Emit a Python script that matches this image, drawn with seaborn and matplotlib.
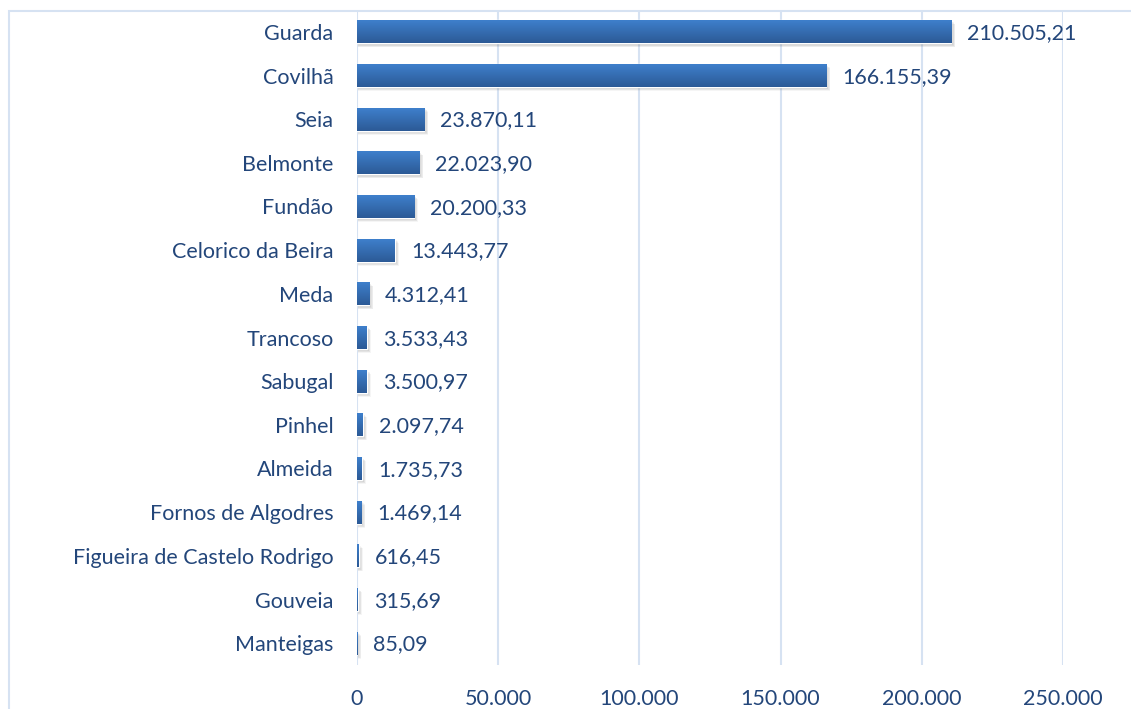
import numpy as np
import pandas as pd
import matplotlib
matplotlib.use('Agg')
import matplotlib.pyplot as plt
import seaborn as sns
from matplotlib.patches import Rectangle
from matplotlib.colors import LinearSegmentedColormap

# Data
concelhos = ['Guarda', 'Covilhã', 'Seia', 'Belmonte', 'Fundão', 'Celorico da Beira',
             'Meda', 'Trancoso', 'Sabugal', 'Pinhel', 'Almeida', 'Fornos de Algodres',
             'Figueira de Castelo Rodrigo', 'Gouveia', 'Manteigas']
valores = [210505.21, 166155.39, 23870.11, 22023.90, 20200.33, 13443.77,
           4312.41, 3533.43, 3500.97, 2097.74, 1735.73, 1469.14,
           616.45, 315.69, 85.09]
x_ticks = [0, 50000, 100000, 150000, 200000, 250000]

df = pd.DataFrame({'Concelho': concelhos, 'Valor': valores})

TXT = '#23467A'
GRID = '#D6E2F2'
FS = 15.5

def pt(v):
    # Portuguese number format: 1.234,56
    s = f"{v:,.2f}"
    return s.replace(',', 'X').replace('.', ',').replace('X', '.')

sns.set_style('white')
plt.rcParams['font.family'] = ['Lato', 'DejaVu Sans']

fig = plt.figure(figsize=(11.31, 7.09), dpi=100)
ax = fig.add_axes([357 / 1131, 1 - 665 / 709, (1063 - 357) / 1131, (665 - 10) / 709])

sns.barplot(data=df, x='Valor', y='Concelho', orient='h', color='#3A76C0',
            width=0.53, ax=ax, zorder=3)

ax.set_xlim(0, 250000)
ax.set_ylim(len(concelhos) - 0.5, -0.5)
ax.set_xticks(x_ticks)
ax.set_xticklabels(['0' if t == 0 else f"{t:,}".replace(',', '.') for t in x_ticks])
ax.set_xlabel('')
ax.set_ylabel('')
for s in ax.spines.values():
    s.set_visible(False)
ax.grid(axis='x', color=GRID, linewidth=1.5, zorder=0)
ax.grid(axis='y', visible=False)
ax.tick_params(axis='x', length=0, pad=17, labelsize=FS, labelcolor=TXT)
ax.tick_params(axis='y', length=0, pad=17, labelsize=FS, labelcolor=TXT)

# pixel sizes in data units
px_x = 250000 / 706
px_y = 1 / 43.6

# gradient fill (light top, dark bottom) + soft shadow below each bar
cmap = LinearSegmentedColormap.from_list('bar', ['#2C5A96', '#3F81CE'])
grad = np.linspace(0, 1, 64).reshape(-1, 1)
for p, v in zip(list(ax.patches), valores):
    x0, y0, w, h = p.get_x(), p.get_y(), p.get_width(), p.get_height()
    for k in range(5, 0, -1):
        ax.add_patch(Rectangle((x0 + px_x * 0.5, y0 + px_y * (1 + 0.6 * k)),
                               w + px_x * (0.5 + 0.6 * k), h,
                               facecolor='#606060', alpha=0.06,
                               edgecolor='none', zorder=2))
    im = ax.imshow(grad, cmap=cmap, aspect='auto', extent=(x0, x0 + w, y0 + h, y0),
                   origin='lower', zorder=3.5)
    im.set_clip_path(p)
    ax.text(v + 16 * px_x, y0 + h / 2 + 0.03, pt(v), va='center', ha='left',
            fontsize=FS, color=TXT, zorder=5)

ax.set_ylim(len(concelhos) - 0.5, -0.5)
ax.set_xlim(0, 250000)

# chart-area frame (cropped at right and bottom)
fig.patches.append(Rectangle((9 / 1131, -0.05), 1.2, 1 - 11 / 709 + 0.05,
                             transform=fig.transFigure, fill=False,
                             edgecolor=GRID, linewidth=1.5, zorder=0))

fig.savefig('out.png', dpi=100)
plt.close(fig)
